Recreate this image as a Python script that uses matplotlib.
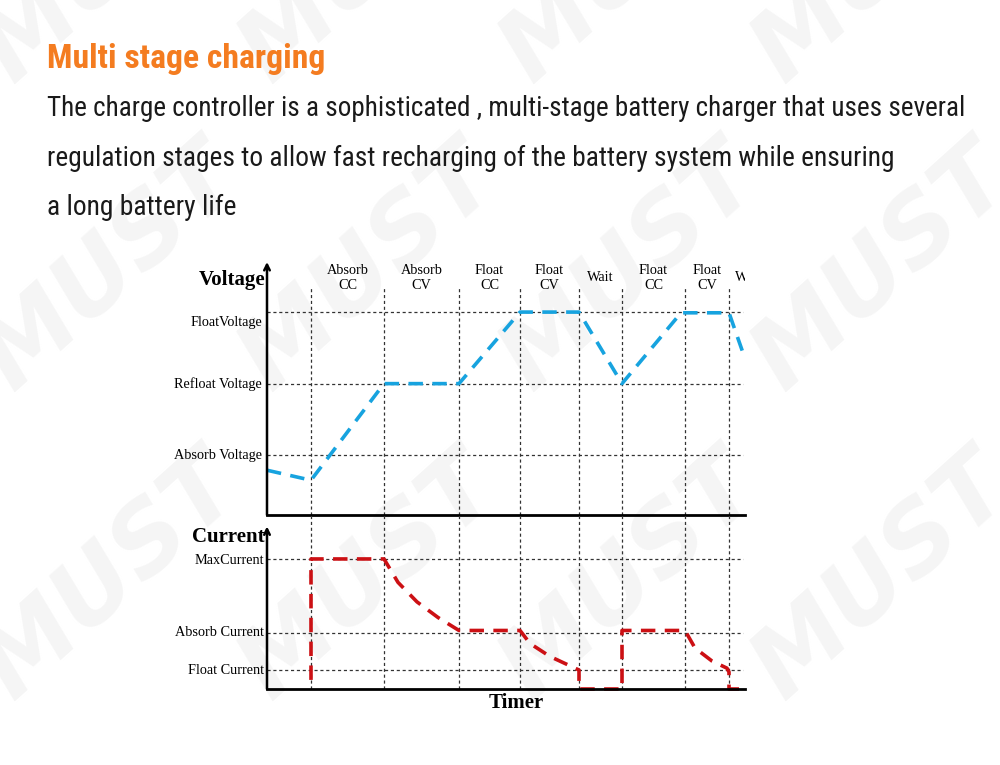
#!/usr/bin/env python3
"""
Multi stage charging: voltage / current diagram.
"""
import matplotlib
matplotlib.use('Agg')
import matplotlib.pyplot as plt
from matplotlib import font_manager

# Stages (time axis in arbitrary units)
stage_edges = [44, 117, 192, 253, 312, 355, 418, 462]
stage_names = ['Absorb\nCC', 'Absorb\nCV', 'Float\nCC', 'Float\nCV', 'Wait',
               'Float\nCC', 'Float\nCV', 'Wait']
stage_last_end = 500
time_end = 478

# Voltage levels
v_levels = [1.0, 2.0, 3.0]
v_names = ['Absorb Voltage', 'Refloat Voltage', 'FloatVoltage']
v_label_pos = [1.0, 2.0, 2.86]

voltage_t = [0, 44, 117, 192, 253, 312, 355, 414, 462, 476]
voltage_v = [0.79, 0.65, 2.0, 2.0, 3.0, 3.0, 2.0, 2.99, 2.99, 2.43]

# Current levels
i_levels = [0.146, 0.43, 1.0]
i_names = ['Float Current', 'Absorb Current', 'MaxCurrent']
i_label_pos = [0.146, 0.435, 0.985]

current_t = [44, 44, 117, 131, 150, 171, 192, 253, 263, 283, 312, 312,
             355, 355, 418, 428, 445, 460, 462, 462, 478]
current_i = [0.07, 1.0, 1.0, 0.82, 0.67, 0.55, 0.45, 0.45, 0.35, 0.25, 0.146, 0.0,
             0.0, 0.45, 0.45, 0.315, 0.215, 0.16, 0.13, 0.0, 0.0]

TITLE = 'Multi stage charging'
BODY = ['The charge controller is a sophisticated , multi-stage battery charger that uses several',
        'regulation stages to allow fast recharging of the battery system while ensuring',
        'a long battery life']

SERIF = ['Liberation Serif', 'DejaVu Serif']
LABEL_FS = 10.3
GRID_KW = dict(color='#333333', lw=0.9, dashes=(2.5, 2.2))

W, H = 1000, 765


def fx(px):
    return px / W


def fy(py):
    return 1 - py / H


def pick_narrow_font():
    """Самый узкий из установленных шрифтов без засечек."""
    for name in ['Liberation Sans Narrow', 'Roboto Condensed', 'Open Sans Condensed',
                 'Noto Sans Condensed', 'DejaVu Sans Condensed']:
        try:
            font_manager.findfont(font_manager.FontProperties(family=name),
                                  fallback_to_default=False)
            return dict(family=name)
        except ValueError:
            pass
    for name in ['Roboto', 'Noto Sans', 'Open Sans']:
        path = font_manager.findfont(font_manager.FontProperties(family=name, stretch='condensed'))
        if 'ondensed' in path or 'arrow' in path:
            return dict(family=name, stretch='condensed')
    return dict(family=['Roboto', 'DejaVu Sans'])


def fit_text(fig, txt, target_px):
    """Подгоняем размер шрифта под ширину строки в оригинале."""
    renderer = fig.canvas.get_renderer()
    w = txt.get_window_extent(renderer=renderer).width
    txt.set_fontsize(txt.get_fontsize() * target_px / w)


def draw_watermark(fig):
    for cy in [-40, 268, 577]:
        for cx in [112, 370, 631, 883]:
            fig.text(fx(cx), fy(cy), 'MUST', fontsize=70, fontweight='bold', style='italic',
                     color='#f5f5f5', rotation=42, ha='center', va='center',
                     family='DejaVu Sans', zorder=-5)


def setup_axes(ax, ymin, ymax, arrow_top):
    ax.set_xlim(0, time_end)
    ax.set_ylim(ymin, ymax)
    ax.patch.set_visible(False)
    for side in ['left', 'right', 'top']:
        ax.spines[side].set_visible(False)
    ax.spines['bottom'].set_linewidth(2)
    ax.set_xticks([])
    ax.set_yticks([])
    ax.annotate('', xy=(0, arrow_top), xytext=(0, ymin),
                arrowprops=dict(arrowstyle='->', lw=1.8, color='black',
                                shrinkA=0, shrinkB=0, mutation_scale=10),
                annotation_clip=False)


def main():
    fig = plt.figure(figsize=(10, 7.65), dpi=100)
    draw_watermark(fig)
    narrow = pick_narrow_font()

    # Заголовок и описание
    t = fig.text(fx(47), fy(68), TITLE, fontsize=25, fontweight='bold', color='#f47c20',
                 va='baseline', **narrow)
    fit_text(fig, t, 278)
    for line, base, width in zip(BODY, [116, 166, 215], [918, 848, 190]):
        t = fig.text(fx(47), fy(base), line, fontsize=19, color='#1a1a1a',
                     va='baseline', **narrow)
        fit_text(fig, t, width)

    # Напряжение
    ax_v = fig.add_axes([fx(267), fy(515), fx(478), (515 - 262) / H])
    setup_axes(ax_v, 0.164, 3.70, 3.70)
    for lv in v_levels:
        ax_v.plot([0, 476], [lv, lv], **GRID_KW)
    for e in stage_edges:
        ax_v.plot([e, e], [0.164, 3.36], **GRID_KW)
    for name, pos in zip(v_names, v_label_pos):
        ax_v.text(-5, pos, name, ha='right', va='center', fontsize=LABEL_FS, family=SERIF)
    ax_v.plot(voltage_t, voltage_v, color='#17a3df', lw=2.6, dashes=(4, 2.6),
              dash_capstyle='butt')
    ax_v.text(-2, 3.45, 'Voltage', ha='right', va='center', fontsize=15,
              fontweight='bold', family=SERIF)

    starts = [0] + stage_edges
    ends = stage_edges + [stage_last_end]
    centers = [(a + b) / 2 for a, b in zip(starts[1:], ends[1:])]
    for c, name in zip(centers, stage_names):
        ax_v.text(c, 3.48, name, ha='center', va='center', fontsize=LABEL_FS,
                  family=SERIF, linespacing=1.2, clip_on=True)

    # Ток
    ax_i = fig.add_axes([fx(267), fy(689), fx(478), (689 - 515) / H])
    setup_axes(ax_i, 0.0, 1.338, 1.25)
    for lv in i_levels:
        ax_i.plot([0, 476], [lv, lv], **GRID_KW)
    for e in stage_edges:
        ax_i.plot([e, e], [0, 1.338], **GRID_KW)
    for name, pos in zip(i_names, i_label_pos):
        ax_i.text(-3, pos, name, ha='right', va='center', fontsize=LABEL_FS, family=SERIF)
    ax_i.plot(current_t, current_i, color='#cc1014', lw=2.6, dashes=(4, 2.6),
              dash_capstyle='butt', clip_on=False)
    ax_i.text(-2, 1.17, 'Current', ha='right', va='center', fontsize=15,
              fontweight='bold', family=SERIF)
    ax_i.text(249, -0.108, 'Timer', ha='center', va='center', fontsize=15,
              fontweight='bold', family=SERIF)

    fig.savefig('out.png', dpi=100)
    plt.close(fig)


if __name__ == '__main__':
    main()
